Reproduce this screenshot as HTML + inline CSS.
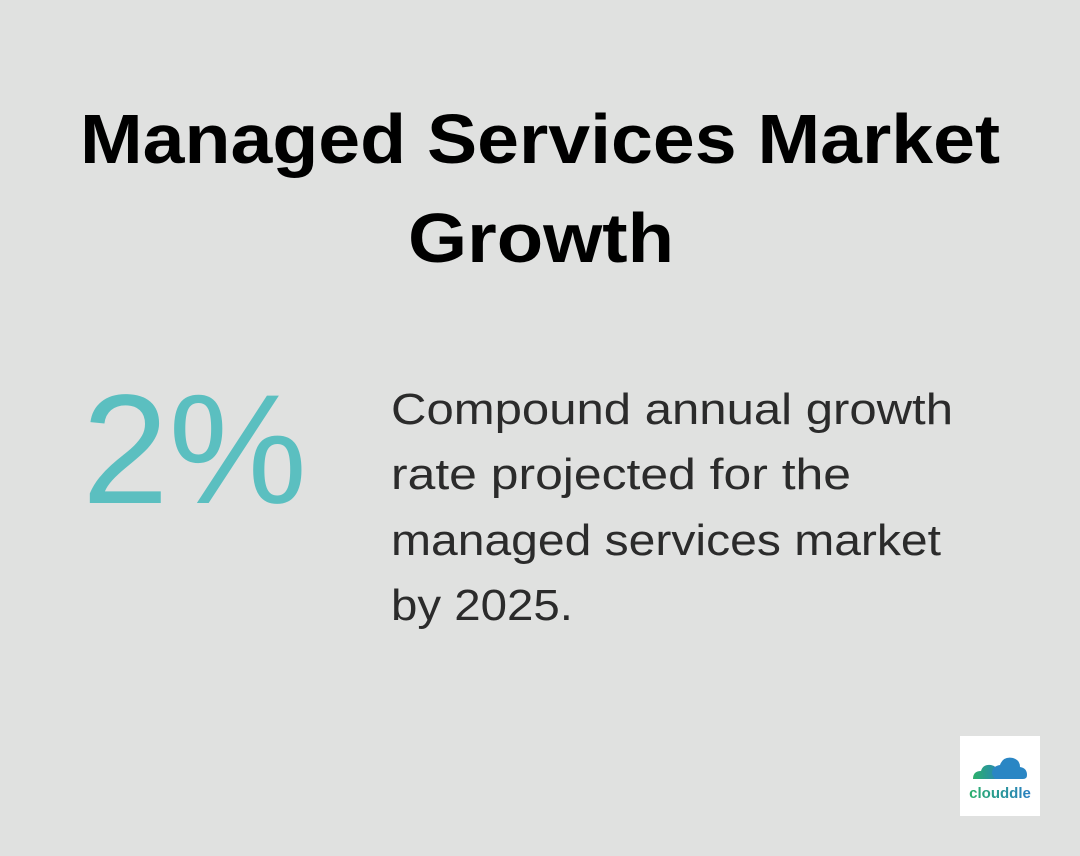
<!DOCTYPE html>
<html><head><meta charset="utf-8"><style>
html,body{margin:0;padding:0;background:#e0e1e0;}
svg{display:block}
</style></head><body>
<svg width="1080" height="856" viewBox="0 0 1080 856" xmlns="http://www.w3.org/2000/svg">
<rect width="1080" height="856" fill="#e0e1e0"/>
<g font-family="Liberation Sans, sans-serif" font-weight="bold" fill="#000" font-size="70">
<text x="80" y="163" textLength="920" lengthAdjust="spacingAndGlyphs">Managed Services Market</text>
<text x="408" y="262" textLength="266" lengthAdjust="spacingAndGlyphs">Growth</text>
</g>
<text x="82" y="503" font-family="Liberation Sans, sans-serif" font-size="156" fill="#5bbfc0" textLength="225" lengthAdjust="spacingAndGlyphs">2%</text>
<g font-family="Liberation Sans, sans-serif" font-size="44" fill="#2b2b2b">
<text x="391" y="424" textLength="562" lengthAdjust="spacingAndGlyphs">Compound annual growth</text>
<text x="391" y="489" textLength="460" lengthAdjust="spacingAndGlyphs">rate projected for the</text>
<text x="391" y="555" textLength="550" lengthAdjust="spacingAndGlyphs">managed services market</text>
<text x="391" y="620" textLength="182" lengthAdjust="spacingAndGlyphs">by 2025.</text>
</g>
<rect x="960" y="736" width="80" height="80" fill="#fff"/>
<defs><linearGradient id="g" x1="0" x2="1"><stop offset="0" stop-color="#2bb06a"/><stop offset="1" stop-color="#2a7fc4"/></linearGradient></defs>
<path d="M973 779 q0-8 8-8 q2-7 10-6 q6 1 7 7 q6 0 6 7 z" fill="url(#g)"/>
<path d="M992 774 q0-8 8-9 q3-9 13-7 q7 2 7 9 q7 1 7 8 q0 4-4 4 h-28 z" fill="#2a86c4"/>
<text x="1000" y="798" text-anchor="middle" font-family="Liberation Sans, sans-serif" font-weight="bold" font-size="15" fill="url(#g)">clouddle</text>
</svg>
</body></html>
